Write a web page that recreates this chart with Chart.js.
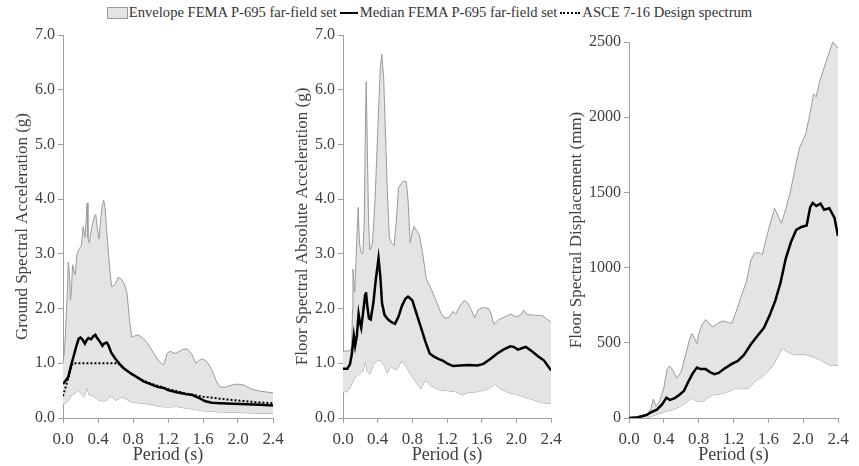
<!DOCTYPE html>
<html>
<head>
<meta charset="utf-8">
<script src="https://cdn.jsdelivr.net/npm/chart.js@4"></script>
<style>
  body { margin: 0; background: #fff; width: 859px; height: 466px; position: relative; overflow: hidden; }
  canvas { position: absolute; top: 0; }
  #legend { position: absolute; top: 3px; left: 0; width: 859px; text-align: center;
    font: 14.6px "Liberation Serif", serif; color: #333; white-space: nowrap; }
  #legend span { display: inline-block; vertical-align: middle; }
  .box { width: 19px; height: 10px; background: #e4e4e4; border: 1px solid #999; margin-right: 1px; }
  .solid { width: 18px; border-top: 2px solid #000; margin: 0 2px 0 3px; }
  .dots { width: 20px; border-top: 2px dotted #000; margin: 0 2px 0 3px; }
</style>
</head>
<body>
<div id="legend">
  <span class="box"></span><span>Envelope FEMA P-695 far-field set</span><span class="solid"></span><span>Median FEMA P-695 far-field set</span><span class="dots"></span><span>ASCE 7-16 Design spectrum</span>
</div>
<canvas id="c1" width="290" height="466" style="left:0"></canvas>
<canvas id="c2" width="290" height="466" style="left:280px"></canvas>
<canvas id="c3" width="299" height="466" style="left:560px"></canvas>
<script>
// [period (s), value]
const groundUpper = [[0,1.0],[0.02,1.3],[0.05,2.3],[0.06,2.85],[0.075,2.6],[0.085,2.15],[0.095,2.3],[0.11,2.8],[0.125,2.7],[0.14,2.62],[0.16,3.0],[0.19,3.1],[0.21,3.15],[0.23,3.5],[0.25,3.3],[0.265,3.6],[0.275,3.93],[0.285,3.3],[0.3,3.2],[0.33,3.5],[0.36,3.7],[0.375,3.72],[0.39,3.5],[0.41,3.27],[0.43,3.6],[0.45,3.9],[0.465,3.98],[0.48,3.85],[0.5,3.4],[0.53,2.8],[0.555,2.4],[0.6,2.45],[0.63,2.57],[0.66,2.55],[0.7,2.45],[0.73,2.3],[0.76,1.8],[0.785,1.48],[0.82,1.5],[0.86,1.52],[0.92,1.45],[0.98,1.33],[1.05,1.15],[1.1,1.03],[1.15,0.97],[1.19,1.18],[1.22,1.22],[1.28,1.18],[1.33,1.22],[1.38,1.26],[1.42,1.26],[1.47,1.17],[1.52,1.0],[1.56,1.06],[1.6,1.08],[1.65,1.02],[1.7,0.88],[1.75,0.68],[1.79,0.57],[1.85,0.56],[1.92,0.6],[1.99,0.62],[2.07,0.6],[2.15,0.53],[2.25,0.49],[2.4,0.46]];
const groundLower = [[0,0.25],[0.05,0.3],[0.1,0.42],[0.15,0.47],[0.18,0.5],[0.21,0.43],[0.24,0.38],[0.275,0.55],[0.3,0.42],[0.35,0.4],[0.4,0.33],[0.45,0.31],[0.5,0.32],[0.55,0.41],[0.6,0.32],[0.67,0.38],[0.72,0.35],[0.78,0.29],[0.9,0.27],[1.0,0.25],[1.1,0.21],[1.2,0.2],[1.3,0.21],[1.4,0.18],[1.5,0.16],[1.6,0.13],[1.7,0.12],[1.8,0.11],[2.0,0.1],[2.2,0.09],[2.4,0.08]];
const groundMedian = [[0,0.62],[0.03,0.68],[0.06,0.75],[0.09,0.95],[0.12,1.12],[0.15,1.3],[0.18,1.45],[0.2,1.47],[0.225,1.43],[0.25,1.36],[0.27,1.42],[0.29,1.46],[0.32,1.44],[0.35,1.5],[0.37,1.52],[0.39,1.46],[0.42,1.4],[0.45,1.32],[0.47,1.36],[0.5,1.38],[0.52,1.33],[0.55,1.2],[0.6,1.08],[0.65,0.98],[0.7,0.9],[0.78,0.81],[0.85,0.74],[0.92,0.67],[1.0,0.62],[1.08,0.57],[1.15,0.55],[1.2,0.51],[1.3,0.47],[1.4,0.44],[1.48,0.42],[1.55,0.37],[1.62,0.31],[1.7,0.28],[1.8,0.27],[1.95,0.26],[2.1,0.25],[2.25,0.24],[2.4,0.23]];
const groundDesign = [[0,0.4],[0.11,1.0],[0.63,1.0],[0.7,0.9],[0.8,0.79],[0.9,0.7],[1.0,0.63],[1.2,0.53],[1.4,0.45],[1.6,0.39],[1.8,0.35],[2.0,0.32],[2.2,0.29],[2.4,0.27]];

const floorAccUpper = [[0,1.22],[0.08,1.23],[0.1,1.3],[0.11,2.0],[0.115,2.72],[0.125,2.5],[0.135,2.3],[0.15,2.9],[0.175,3.85],[0.19,3.2],[0.207,3.03],[0.23,3.0],[0.245,3.6],[0.26,5.5],[0.268,6.15],[0.28,5.0],[0.295,3.6],[0.31,3.07],[0.34,3.2],[0.37,4.0],[0.4,5.2],[0.43,6.4],[0.448,6.65],[0.47,6.2],[0.49,5.2],[0.515,4.0],[0.535,3.3],[0.56,3.2],[0.59,3.15],[0.615,3.6],[0.64,4.2],[0.67,4.28],[0.7,4.33],[0.73,4.32],[0.75,4.0],[0.775,3.2],[0.8,3.4],[0.82,3.5],[0.85,3.42],[0.88,3.35],[0.92,3.0],[0.96,2.55],[1.02,2.35],[1.08,2.12],[1.13,1.92],[1.17,1.83],[1.22,1.83],[1.27,1.95],[1.3,1.9],[1.35,2.05],[1.4,2.15],[1.44,2.1],[1.48,1.98],[1.52,1.83],[1.56,1.98],[1.62,2.02],[1.68,2.0],[1.71,1.9],[1.74,1.71],[1.8,1.8],[1.87,1.85],[1.93,1.9],[2.0,1.85],[2.05,1.88],[2.085,1.97],[2.12,1.89],[2.2,1.88],[2.3,1.87],[2.4,1.75]];
const floorAccLower = [[0,0.47],[0.06,0.5],[0.1,0.62],[0.14,0.75],[0.17,0.78],[0.2,0.82],[0.23,0.85],[0.26,1.04],[0.28,0.85],[0.31,0.8],[0.35,0.98],[0.4,1.05],[0.44,1.05],[0.48,0.95],[0.51,0.82],[0.55,0.95],[0.6,0.88],[0.63,0.9],[0.67,1.04],[0.72,0.97],[0.78,0.8],[0.84,0.66],[0.9,0.53],[0.95,0.7],[1.0,0.6],[1.1,0.52],[1.2,0.5],[1.3,0.48],[1.38,0.42],[1.45,0.47],[1.55,0.48],[1.65,0.52],[1.72,0.58],[1.75,0.62],[1.8,0.55],[1.9,0.47],[2.0,0.43],[2.1,0.38],[2.2,0.33],[2.3,0.28],[2.4,0.26]];
const floorAccMedian = [[0,0.9],[0.05,0.9],[0.08,0.98],[0.1,1.15],[0.115,1.35],[0.125,1.5],[0.14,1.32],[0.16,1.5],[0.18,1.9],[0.195,1.75],[0.21,1.65],[0.23,1.9],[0.255,2.25],[0.265,2.3],[0.28,2.05],[0.3,1.82],[0.32,1.8],[0.35,2.1],[0.38,2.55],[0.41,2.92],[0.43,2.6],[0.45,2.1],[0.48,1.88],[0.52,1.8],[0.56,1.75],[0.6,1.72],[0.64,1.85],[0.68,2.05],[0.72,2.18],[0.75,2.22],[0.78,2.18],[0.8,2.15],[0.85,1.9],[0.9,1.65],[0.95,1.4],[1.0,1.18],[1.05,1.12],[1.1,1.08],[1.15,1.05],[1.2,1.0],[1.27,0.95],[1.35,0.96],[1.45,0.97],[1.55,0.96],[1.62,0.99],[1.7,1.08],[1.78,1.18],[1.85,1.25],[1.93,1.31],[1.97,1.3],[2.02,1.25],[2.07,1.28],[2.11,1.3],[2.18,1.22],[2.25,1.13],[2.32,1.05],[2.4,0.87]];

const floorDispUpper = [[0,0],[0.15,0],[0.2,20],[0.25,60],[0.28,125],[0.31,78],[0.35,110],[0.4,200],[0.44,330],[0.47,345],[0.5,320],[0.55,265],[0.6,310],[0.65,420],[0.69,510],[0.72,562],[0.75,530],[0.78,495],[0.8,560],[0.84,620],[0.88,655],[0.92,630],[0.96,605],[1.02,630],[1.08,645],[1.14,635],[1.18,630],[1.22,690],[1.29,810],[1.35,910],[1.4,1050],[1.44,1095],[1.49,1100],[1.53,1085],[1.57,1180],[1.61,1270],[1.65,1350],[1.67,1395],[1.7,1360],[1.75,1295],[1.8,1390],[1.85,1495],[1.9,1640],[1.96,1800],[2.03,1890],[2.08,2030],[2.12,2155],[2.15,2135],[2.19,2240],[2.23,2310],[2.28,2400],[2.34,2500],[2.4,2460]];
const floorDispLower = [[0,0],[0.2,0],[0.3,20],[0.4,40],[0.5,55],[0.6,80],[0.67,110],[0.72,132],[0.78,112],[0.85,110],[0.92,140],[0.97,155],[1.05,160],[1.12,170],[1.22,195],[1.3,195],[1.38,200],[1.45,245],[1.52,270],[1.58,300],[1.64,340],[1.7,400],[1.76,465],[1.82,440],[1.9,420],[2.0,425],[2.1,410],[2.2,385],[2.3,352],[2.4,350]];
const floorDispMedian = [[0,0],[0.1,5],[0.2,20],[0.26,40],[0.32,55],[0.38,90],[0.43,135],[0.47,120],[0.52,130],[0.58,155],[0.63,180],[0.68,240],[0.73,295],[0.78,335],[0.82,325],[0.88,325],[0.93,305],[0.98,292],[1.03,300],[1.1,330],[1.18,360],[1.25,380],[1.32,420],[1.4,490],[1.48,550],[1.55,600],[1.62,690],[1.68,780],[1.74,900],[1.8,1060],[1.86,1170],[1.92,1250],[1.98,1270],[2.04,1280],[2.08,1400],[2.11,1430],[2.15,1410],[2.2,1425],[2.24,1385],[2.3,1395],[2.36,1330],[2.4,1210]];

const axisGray = '#a0a0a0';
const textGray = '#404040';
const serif = '"Liberation Serif", "Times New Roman", serif';

const pts = arr => arr.map(([x, y]) => ({ x, y }));

function makeChart(id, cfg) {
  const datasets = [
    { label: 'Median', data: pts(cfg.median), borderColor: '#000', borderWidth: 2.5, pointRadius: 0, fill: false }
  ];
  if (cfg.design) {
    datasets.push({ label: 'Design', data: pts(cfg.design), borderColor: '#000', borderWidth: 2, borderDash: [2, 2], pointRadius: 0, fill: false });
  }
  datasets.push(
    { label: 'Envelope', data: pts(cfg.upper), borderColor: '#9a9a9a', borderWidth: 1, pointRadius: 0, fill: '+1', backgroundColor: '#e4e4e4' },
    { label: 'Envelope low', data: pts(cfg.lower), borderColor: '#9a9a9a', borderWidth: 1, pointRadius: 0, fill: false }
  );

  return new Chart(document.getElementById(id), {
    type: 'line',
    data: { datasets },
    options: {
      responsive: false,
      animation: false,
      layout: { padding: { top: cfg.top, right: cfg.right, left: 0, bottom: 0 } },
      plugins: { legend: { display: false }, tooltip: { enabled: false } },
      scales: {
        x: {
          type: 'linear', min: 0, max: 2.4,
          border: { color: axisGray, width: 1 },
          grid: { drawOnChartArea: false, color: axisGray, tickLength: 5 },
          ticks: { stepSize: 0.4, padding: 6, color: textGray, font: { family: serif, size: 17 }, callback: v => v.toFixed(1), maxRotation: 0 },
          title: { display: true, text: 'Period (s)', color: textGray, font: { family: serif, size: 18 }, padding: { top: 0, bottom: 0 } },
          afterFit: s => { s.height = 48; }
        },
        y: {
          min: 0, max: cfg.ymax,
          border: { color: axisGray, width: 1 },
          grid: { drawOnChartArea: false, color: axisGray, tickLength: 5 },
          ticks: { stepSize: cfg.ystep, padding: 3, color: textGray, font: { family: serif, size: 16 }, callback: cfg.yfmt },
          title: { display: true, text: cfg.ytitle, color: textGray, font: { family: serif, size: 17 }, padding: { top: cfg.titlePad, bottom: 0 } },
          afterFit: s => { s.width = cfg.yw; }
        }
      }
    }
  });
}

makeChart('c1', {
  upper: groundUpper, lower: groundLower, median: groundMedian, design: groundDesign,
  ymax: 7, ystep: 1, yfmt: v => v.toFixed(1), ytitle: 'Ground Spectral Acceleration (g)',
  yw: 63, top: 35, right: 17, titlePad: 12
});
makeChart('c2', {
  upper: floorAccUpper, lower: floorAccLower, median: floorAccMedian,
  ymax: 7, ystep: 1, yfmt: v => v.toFixed(1), ytitle: 'Floor Spectral Absolute Acceleration (g)',
  yw: 63, top: 35, right: 19, titlePad: 12
});
makeChart('c3', {
  upper: floorDispUpper, lower: floorDispLower, median: floorDispMedian,
  ymax: 2500, ystep: 500, yfmt: v => String(v), ytitle: 'Floor Spectral Displacement (mm)',
  yw: 69, top: 42, right: 21, titlePad: 6
});
</script>
</body>
</html>
